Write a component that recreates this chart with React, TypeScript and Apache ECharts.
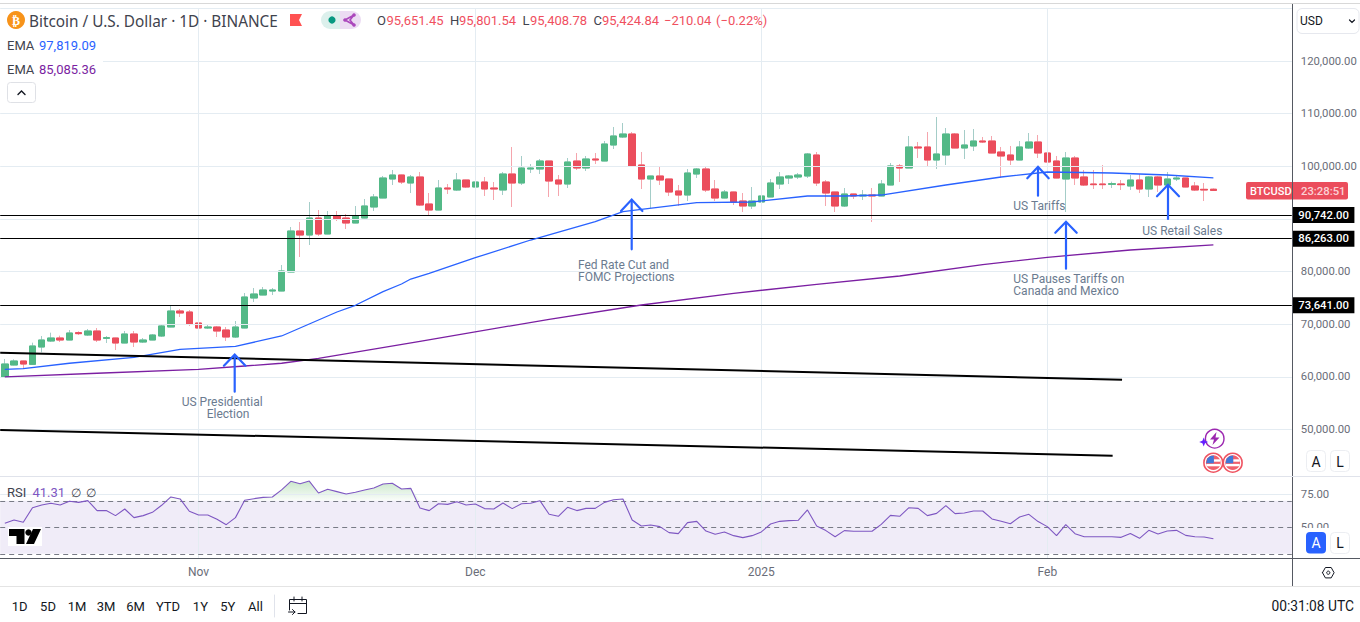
import React, { useEffect, useRef } from "react";
import * as echarts from "echarts";

const monthSpans: [string, number, number][] = [["Oct", 11, 31], ["Nov", 1, 30], ["Dec", 1, 31], ["Jan", 1, 31], ["Feb", 1, 19]];
const futureSlots = ["f1", "f2", "f3", "f4", "f5", "f6", "f7", "f8"];
const categories: string[] = [];
monthSpans.forEach(([m, a, b]) => { for (let d = a; d <= b; d++) categories.push(`${m} ${d}`); });
futureSlots.forEach((s) => categories.push(s));
const timeLabels: Record<string, string> = { "Nov 1": "Nov", "Dec 1": "Dec", "Jan 1": "2025", "Feb 1": "Feb" };
const priceLevels = [90742, 86263, 73641];
const priceTickLabels = [50000, 60000, 70000, 80000, 100000, 110000, 120000];
const priceGridLines = [50000, 60000, 70000, 80000, 90000, 100000, 110000, 120000, 130000];
const rsiTickLabels = [50, 75];

// open, close, low, high
const ohlc: number[][] = [
  [59992,62460,59992,63410],[62270,63030,62200,63345],[63030,62460,61637,63060],[62397,65879,62270,66512],[65689,67018,64676,67776],
  [66828,67398,66638,68411],[67398,67018,66638,67841],[67018,68347,66990,68917],[68411,68221,67967,68664],[67967,68727,67776,69107],
  [68727,67018,66638,69297],[67335,67461,66448,67776],[67398,66448,65119,67430],[66448,68157,66420,68727],[68157,66638,65689,68727],
  [66638,67018,66448,67398],[67018,67967,66990,68157],[67776,69677,67587,70056],[69487,72525,69440,73475],[72525,72145,71386,72905],
  [72335,70056,69677,72715],[70246,69297,68727,71576],[69297,69487,69107,69866],[69487,68727,67587,69677],[68917,67587,66828,69487],
  [67587,69487,67398,70626],[69297,75184,69260,75943],[74994,75753,74234,76893],[75563,76513,75530,77083],[76323,76513,75563,76893],
  [76323,80121,76290,81261],[79931,87717,79900,88477],[87717,86957,82780,89426],[86957,90186,85058,93224],[90186,87147,86768,91705],
  [87147,90629,87120,91515],[90566,89996,89616,91515],[90186,89236,88097,90945],[89236,90629,89200,92465],[90186,92465,90150,93794],
  [92275,94174,91515,94743],[93984,97782,93950,98162],[97592,98351,96452,99301],[98351,97022,96642,98400],[96832,97972,94933,98351],
  [97972,92654,92465,98921],[92844,91705,90756,94933],[91705,95882,91670,97402],[95882,95693,94743,96642],[95503,97402,95313,98731],
  [97402,96073,95882,97440],[96073,97022,95882,97592],[97022,95693,94364,97972],[95882,95693,93604,97022],[95503,98541,94553,98921],
  [98541,96832,92275,103669],[96832,99681,96452,101960],[99491,99681,98731,100440],[99491,101010,98541,101390],[101010,97212,94174,101040],
  [97402,96642,94364,98351],[96642,100820,95882,101580],[101010,99681,99301,102529],[99681,101390,99111,101960],[101390,101200,100440,102529],
  [101010,104238,100980,104808],[104048,105758,103289,107467],[105568,106137,105378,108226],[106137,100061,100030,106517],[100251,97592,95693,102719],
  [97592,98161,92085,98190],[98161,97402,96452,99871],[97592,95123,94364,97620],[95313,94553,92465,96452],[94553,98731,93414,99491],
  [98541,99491,97782,99681],[99491,95503,95123,99871],[95693,93984,93414,97402],[93984,95123,93950,95503],[95123,93224,92654,95160],
  [93414,92465,91325,94933],[92465,93414,91895,96073],[93224,94364,93034,94870],[94174,96832,94140,97592],[96642,97972,95693,98921],
  [97782,98161,96642,98351],[97972,98351,97592,98731],[98161,102339,97782,102529],[102149,96832,96262,102719],[97022,94933,92465,97402],
  [95123,92465,91325,95150],[92465,94743,92275,95882],[94743,94364,93794,94770],[94364,94553,93604,95503],[94553,94364,89426,95882],
  [94364,96642,94330,97402],[96452,100061,96420,100630],[100061,99681,97022,100440],[99681,103669,99650,105758],[103669,103479,101580,104618],
  [103669,101200,99871,106517],[101200,102339,99491,109366],[102149,106137,100251,107277],[106137,103479,103450,106327],[103479,104048,101390,106897],
  [103859,104808,102909,107087],[104808,104618,104428,105568],[104808,102529,102500,105758],[102719,101960,97782,103669],[102149,101200,100251,103859],
  [101200,103669,101170,104808],[103479,104618,103289,106327],[104618,102529,101580,105947],[102529,100820,100790,102719],[101010,97782,97750,101960],
  [97592,101580,91325,102719],[101580,97782,96452,101960],[97972,96452,96262,99301],[96642,96516,95693,99301],[96642,96516,95693,100250],
  [96579,96706,95882,97085],[96642,96516,95503,97402],[96262,97402,95503,98351],[97402,95693,94933,98541],[95693,97972,94174,98161],
  [97972,96452,95123,98161],[96452,97592,96420,98921],[97592,97782,97212,98161],[97782,96073,96040,97810],[96262,95503,95313,97022],
  [95630,95503,93414,96832],[95651.45,95424.84,95408.78,95801.54],
];

// [bar index, value]
const emaFast: number[][] = [[0,61454],[2,61570],[7,62600],[14,63730],[19,65250],[25,65820],[30,67780],[36,72335],[38,73610],[41,76190],[43,77652],[44,78600],[46,79685],[51,82646],[57,86008],[64,89483],[67,91382],[69,91838],[75,93092],[81,93224],[87,94364],[91,94364],[95,94550],[102,96450],[108,97970],[113,98920],[120,98730],[126,98350],[131,97819.09]];
const emaSlow: number[][] = [[0,60000],[10,60700],[21,61454],[26,62080],[30,62600],[34,63540],[45,66770],[59,70950],[69,73664],[79,75885],[88,77595],[97,79170],[106,81350],[113,82720],[122,84110],[131,85085.36]];
const trendOne: number[][] = [[-0.5,64606],[121.1,59480]];
const trendTwo: number[][] = [[-0.5,49927],[120.08,45047]];

const rsiValues = [53,55.5,53.8,64.8,66.8,68.1,66.8,69.6,68.8,70.1,62.6,62.6,58.8,63.8,57.3,58.8,61.3,66.6,72.9,71.4,62.1,59.3,59.3,56,52,57.3,70.4,71.6,72.6,72.9,78.2,84.7,82.9,84.9,75.9,78.7,76.9,75.1,76.4,78.2,79.7,82.7,83.2,78.9,79.4,64.6,62.6,67.8,67.3,69.35,66.8,67.6,64.1,63.8,68.3,64.1,67.8,68.1,70.1,59.8,58.3,65.1,62.6,64.3,64.3,68.8,70.8,71.4,55.5,51,51.7,50.5,46,45.2,53.5,54.5,47.2,44.7,46.5,43.7,42.2,43.7,46.5,52.5,54.5,55,55.3,63.1,51,47.5,42.9,47.5,47,47,47,52.2,59,58.3,64.8,64.3,58.8,60.5,66.3,60.3,60.8,62.3,62.3,56.3,54.5,52.7,57.8,59.8,54.3,50.5,43.7,52,45.2,42.9,42.9,42.9,42.9,42.4,45.4,41.7,47.7,45,47.2,47.7,43.9,42.9,42.7,41.31];

const UI = "Roboto, sans-serif";
const GRID = "#e4ecf2";
const GRAY = "#6a6d78";
const INK = "#3f434e";
const NOTE = "#6b7b90";
const RED = "#f0505f";
const BLUE = "#2962ff";
const UP = "#53b987";
const DOWN = "#eb4d5c";

function txt(text: string, x: number, y: number, fill: string, fontSize = 12, extra: any = {}) {
  const align = extra.align || "left";
  return {
    type: "text", x, y, z: 110, silent: true,
    style: { text, fill, fontSize, fontFamily: extra.family || UI, fontWeight: extra.weight || 400, textAlign: align, align, textVerticalAlign: "middle", verticalAlign: "middle" },
  };
}
function poly(points: number[][], stroke: string, lineWidth = 1, z = 105) {
  return { type: "polyline", z, silent: true, shape: { points }, style: { stroke, lineWidth, fill: null, lineCap: "round", lineJoin: "miter" } };
}
function solid(points: number[][], fill: string, z = 106) {
  return { type: "polygon", z, silent: true, shape: { points }, style: { fill } };
}
function box(x: number, y: number, w: number, h: number, fill: string, stroke?: string, r = 0, z = 100) {
  return { type: "rect", z, silent: true, shape: { x, y, width: w, height: h, r }, style: { fill, stroke: stroke || null, lineWidth: 1 } };
}
function disc(cx: number, cy: number, r: number, fill: string | null, stroke?: string, lineWidth = 1, z = 106) {
  return { type: "circle", z, silent: true, shape: { cx, cy, r }, style: { fill, stroke: stroke || null, lineWidth } };
}
function arrow(x: number, tip: number, tail: number, half: number, drop: number) {
  return [poly([[x, tip + 1], [x, tail]], BLUE, 2.2), poly([[x - half, tip + drop], [x, tip], [x + half, tip + drop]], BLUE, 2.2)];
}
function flag(cx: number, cy: number) {
  return [
    disc(cx, cy, 9.4, "#ffffff", "#ef5361", 1.6, 107),
    disc(cx, cy, 7.4, "#f0606d", undefined, 1, 108),
    box(cx - 7, cy + 1.2, 14, 2.4, "#ffffff", undefined, 0, 109),
    box(cx + 0.5, cy - 3.4, 6.6, 2.4, "#ffffff", undefined, 0, 109),
    solid([[cx - 7.2, cy + 0.6], [cx - 6, cy - 4.2], [cx - 3, cy - 6.6], [cx + 0.5, cy - 7.3], [cx + 0.5, cy + 0.6]], "#3f78d8", 110),
  ];
}

function buildGraphic() {
  const g: any[] = [];
  // frame
  g.push(poly([[0, 3.5], [1360, 3.5]], "#d8d8d8", 1));
  g.push(poly([[0, 476.5], [1360, 476.5]], "#e0e3eb", 1.2));
  g.push(poly([[0, 558.5], [1360, 558.5]], "#555962", 1));
  g.push(poly([[0, 586.5], [1360, 586.5]], "#e4e4e4", 1));
  g.push(poly([[1292.5, 4], [1292.5, 586]], "#555962", 1, 104));
  // header
  g.push(disc(16, 20, 9, "#f7931a"));
  g.push(txt("₿", 16, 20.5, "#ffffff", 12, { align: "center", family: "DejaVu Sans", weight: 700 }));
  g.push(txt("Bitcoin / U.S. Dollar · 1D · BINANCE", 29, 20.5, INK, 15.35, { family: "Noto Sans, sans-serif" }));
  g.push(solid([[290, 14], [302, 14], [299, 20], [302, 26], [290, 26]], "#ff5252"));
  g.push(box(321, 11, 20, 18, "#dcf0ec", undefined, 9));
  g.push(box(340, 11, 21, 18, "#ecdcf3", undefined, 9));
  g.push(box(331, 11, 10, 18, "#dcf0ec"));
  g.push(box(340, 11, 10, 18, "#ecdcf3"));
  g.push(disc(332, 20, 3.6, "#089981"));
  g.push(poly([[354, 15], [345, 20], [354, 25], [350, 20], [354, 15]], "#ab47bc", 1.6));
  g.push(disc(354, 15, 1.8, "#ab47bc"), disc(345, 20, 1.8, "#ab47bc"), disc(354, 25, 1.8, "#ab47bc"));
  [["O", 377, "95,651.45", 386.5], ["H", 450, "95,801.54", 459], ["L", 522.5, "95,408.78", 530], ["C", 593.5, "95,424.84", 602]].forEach(([a, ax, b, bx]: any) => {
    g.push(txt(a, ax, 20.5, INK, 13));
    g.push(txt(b, bx, 20.5, RED, 13));
  });
  g.push(txt("−210.04", 664, 20.5, RED, 13));
  g.push(txt("(−0.22%)", 716, 20.5, RED, 13));
  g.push(box(0, 58, 103, 6, "#ffffff", undefined, 0, 60));
  g.push(txt("EMA", 7, 45, INK, 13));
  g.push(txt("97,819.09", 39, 45, BLUE, 13));
  g.push(txt("EMA", 7, 69, INK, 13));
  g.push(txt("85,085.36", 39, 69, "#7b1fa2", 13));
  g.push(box(7.5, 82.5, 28, 20, "#ffffff", "#dfe1e6", 3));
  g.push(poly([[18, 94.5], [21.5, 91], [25, 94.5]], "#131722", 1.4));
  // USD selector
  g.push(box(1297, 8.5, 62, 25, "#ffffff", "#e6e8ee", 5));
  g.push(txt("USD", 1300, 21, "#131722", 12));
  g.push(poly([[1349.5, 20], [1352, 22.5], [1354.5, 20]], "#131722", 1.2));
  // price tag
  g.push(box(1246, 182, 102, 17.5, "#eb4d5c", undefined, 2, 101));
  g.push(txt("BTCUSD", 1250, 191, "#ffffff", 11, { weight: 500 }));
  g.push(txt("23:28:51", 1301, 191, "#fbd2d6", 11.3, { weight: 500 }));
  // annotations
  g.push(...arrow(234.7, 354.5, 391.7, 10.8, 11.2));
  g.push(...arrow(631.7, 199.5, 249.3, 10.7, 11.5));
  g.push(...arrow(1038, 166.8, 195.7, 10.7, 11.5));
  g.push(...arrow(1066, 221.8, 268.7, 10.7, 11));
  g.push(...arrow(1168, 184.8, 219, 11, 11.5));
  g.push(txt("US Presidential", 181.7, 401.7, NOTE, 12));
  g.push(txt("Election", 206.7, 413.7, NOTE, 12));
  g.push(txt("Fed Rate Cut and", 578, 264.7, NOTE, 12));
  g.push(txt("FOMC Projections", 578, 276.7, NOTE, 12));
  g.push(txt("US Tariffs", 1013.3, 205.7, NOTE, 12));
  g.push(txt("US Retail Sales", 1142.3, 230.7, NOTE, 12));
  g.push(txt("US Pauses Tariffs on", 1013.3, 278.7, NOTE, 12));
  g.push(txt("Canada and Mexico", 1013.3, 290.7, NOTE, 12));
  // event icons
  g.push(disc(1214.7, 438.7, 9.3, "#ffffff", "#9c27b0", 1.4));
  g.push(solid([[1216.5, 432], [1210, 439.5], [1214, 439.5], [1212.5, 445], [1219.5, 437.5], [1215.5, 437.5]], "#9c27b0"));
  g.push(solid([[1203.7, 437.5], [1205, 440.7], [1208.2, 442], [1205, 443.3], [1203.7, 446.5], [1202.4, 443.3], [1199.2, 442], [1202.4, 440.7]], "#651fff", 108));
  g.push(...flag(1213.3, 462.7), ...flag(1232.7, 462.7));
  // scale buttons
  g.push(box(1306.5, 450.5, 19, 21, "#ffffff", "#eceef2", 4));
  g.push(txt("A", 1316, 461.5, "#131722", 14, { align: "center" }));
  g.push(box(1330.5, 450.5, 19, 21, "#ffffff", "#eceef2", 4));
  g.push(txt("L", 1340, 461.5, "#131722", 14, { align: "center" }));
  g.push(box(1293, 528, 67, 30, "#ffffff", undefined, 0, 99));
  g.push(box(1306, 532, 20, 21.5, BLUE, undefined, 4));
  g.push(txt("A", 1316, 543, "#ffffff", 14, { align: "center" }));
  g.push(box(1330.5, 532.5, 19, 21, "#ffffff", "#eceef2", 4));
  g.push(txt("L", 1340, 543, "#131722", 14, { align: "center" }));
  g.push(poly([[1322.5, 572.7], [1325.4, 567.5], [1331.2, 567.5], [1334.1, 572.7], [1331.2, 577.9], [1325.4, 577.9], [1322.5, 572.7]], "#131722", 1));
  g.push(disc(1328.3, 572.7, 1.6, null, "#131722", 1));
  // RSI legend and logo
  g.push(txt("RSI", 7, 492.7, INK, 13));
  g.push(txt("41.31", 32.5, 492.7, "#7e57c2", 13));
  g.push(txt("∅", 71, 492.7, INK, 12));
  g.push(txt("∅", 86, 492.7, INK, 12));
  g.push(box(8, 527, 34, 19, "#ffffff", undefined, 0, 101));
  g.push(solid([[9, 529], [24.5, 529], [24.5, 544], [16.5, 544], [16.5, 536], [9, 536]], "#000000"));
  g.push(disc(28.5, 532.5, 3.2, "#000000"));
  g.push(solid([[33, 529], [41, 529], [34, 544], [26, 544]], "#000000"));
  // range bar
  [["1D", 19.6], ["5D", 48], ["1M", 77], ["3M", 106], ["6M", 135.5], ["YTD", 168], ["1Y", 200.4], ["5Y", 227.8], ["All", 255.5]].forEach(([t, x]: any) => {
    g.push(txt(t, x, 606, "#131722", 13, { align: "center" }));
  });
  g.push(poly([[274.5, 595], [274.5, 617]], "#e0e3eb", 1));
  g.push(poly([[289.5, 610], [289.5, 599.5], [306.5, 599.5], [306.5, 613.5], [298, 613.5]], "#131722", 1));
  g.push(poly([[289.5, 603.5], [306.5, 603.5]], "#131722", 1));
  g.push(poly([[294, 597], [294, 601]], "#131722", 1), poly([[302, 597], [302, 601]], "#131722", 1));
  g.push(poly([[288.5, 612], [295, 612]], "#131722", 1), poly([[292.5, 609.5], [295, 612], [292.5, 614.5]], "#131722", 1));
  g.push(txt("00:31:08 UTC", 1354, 606, "#131722", 13.8, { align: "right" }));
  return g;
}

function buildOption() {
  const monthNames = Object.keys(timeLabels);
  const isLabelled = (_: number, v: string) => v in timeLabels;
  const lineStyle = { color: GRID, width: 1, type: "solid" };
  const mainGrid = { silent: true, symbol: "none", label: { show: false }, lineStyle, data: [...monthNames.map((m) => ({ xAxis: m })), ...priceGridLines.map((v) => ({ yAxis: v }))] };
  const rsiGrid = { silent: true, symbol: "none", label: { show: false }, lineStyle, data: [...monthNames.map((m) => ({ xAxis: m })), { yAxis: 75 }] };
  const blanks = categories.map(() => null);
  const bodies = ohlc.map(([o, c]) => [o, c, Math.min(o, c), Math.max(o, c)]);
  const overbought = rsiValues.map((v) => Math.max(v, 70));
  const valueFont = { color: GRAY, fontSize: 11.3, fontFamily: UI };
  return {
    animation: false,
    backgroundColor: "#ffffff",
    textStyle: { fontFamily: UI },
    grid: [
      { left: 0.2, width: 1291.6, top: 8, height: 468, outerBoundsMode: "none", containLabel: false },
      { left: 0.2, width: 1291.6, top: 477, height: 81, outerBoundsMode: "none", containLabel: false },
    ],
    xAxis: [
      { type: "category", gridIndex: 0, data: categories, boundaryGap: true, axisLine: { show: false }, axisTick: { show: false }, axisLabel: { show: false }, splitLine: { show: false } },
      { type: "category", gridIndex: 1, data: categories, boundaryGap: true, axisLine: { show: false }, axisTick: { show: false }, splitLine: { show: false },
        axisLabel: { interval: isLabelled, formatter: (v: string) => timeLabels[v] || "", color: GRAY, fontSize: 12, fontFamily: UI, margin: 8 } },
      { type: "value", gridIndex: 0, min: -0.5, max: 139.5, show: false },
    ],
    yAxis: [
      { type: "value", gridIndex: 0, position: "right", min: 41192, max: 130065, axisLine: { show: false }, axisTick: { show: false }, splitLine: { show: false },
        axisLabel: { ...valueFont, margin: 9, customValues: priceTickLabels, formatter: (v: number) => v.toLocaleString("en-US", { minimumFractionDigits: 2 }) } },
      { type: "value", gridIndex: 1, position: "right", min: 26.83, max: 87.96, axisLine: { show: false }, axisTick: { show: false }, splitLine: { show: false },
        axisLabel: { ...valueFont, margin: 9, customValues: rsiTickLabels, formatter: (v: number) => v.toFixed(2) } },
    ],
    graphic: { elements: buildGraphic() },
    series: [
      { name: "grid main", type: "line", xAxisIndex: 0, yAxisIndex: 0, data: blanks, symbol: "none", silent: true, z: 1, markLine: mainGrid },
      { name: "BTCUSD wicks", type: "candlestick", xAxisIndex: 0, yAxisIndex: 0, z: 3, barWidth: 7, data: ohlc, silent: true,
        itemStyle: { color: "#a4cdc8", color0: "#f5a5ad", borderColor: "#a4cdc8", borderColor0: "#f5a5ad", borderWidth: 1 } },
      { name: "BTCUSD", type: "candlestick", xAxisIndex: 0, yAxisIndex: 0, z: 4, barWidth: 7, data: bodies, silent: true,
        itemStyle: { color: UP, color0: DOWN, borderColor: UP, borderColor0: DOWN, borderWidth: 1 } },
      { name: "EMA slow", type: "line", xAxisIndex: 0, yAxisIndex: 0, z: 5, data: emaSlow, symbol: "none", silent: true, lineStyle: { color: "#7b1fa2", width: 1.3 } },
      { name: "EMA fast", type: "line", xAxisIndex: 0, yAxisIndex: 0, z: 5, data: emaFast, symbol: "none", silent: true, lineStyle: { color: BLUE, width: 1.3 } },
      { name: "levels", type: "line", xAxisIndex: 0, yAxisIndex: 0, z: 6, data: blanks, symbol: "none", silent: true,
        markLine: { silent: true, symbol: "none", lineStyle: { color: "#000000", width: 1, type: "solid" },
          label: { show: true, position: "end", distance: 1, backgroundColor: "#000000", color: "#ffffff", fontFamily: UI, fontSize: 11.3, fontWeight: 500, padding: [3, 5.5, 2, 5.5],
            formatter: (p: any) => Number(p.value).toLocaleString("en-US", { minimumFractionDigits: 2 }) },
          data: priceLevels.map((v) => ({ yAxis: v })) } },
      { name: "trend upper", type: "line", xAxisIndex: 2, yAxisIndex: 0, z: 6, data: trendOne, symbol: "none", silent: true, lineStyle: { color: "#000000", width: 2 } },
      { name: "trend lower", type: "line", xAxisIndex: 2, yAxisIndex: 0, z: 6, data: trendTwo, symbol: "none", silent: true, lineStyle: { color: "#000000", width: 2 } },
      { name: "rsi band", type: "line", xAxisIndex: 1, yAxisIndex: 1, data: blanks, symbol: "none", silent: true, z: 1,
        markLine: rsiGrid,
        markArea: { silent: true, itemStyle: { color: "rgba(126,87,194,0.115)" }, data: [[{ yAxis: 30 }, { yAxis: 70 }]] } },
      { name: "rsi guides", type: "line", xAxisIndex: 1, yAxisIndex: 1, data: blanks, symbol: "none", silent: true, z: 2,
        markLine: { silent: true, symbol: "none", label: { show: false }, lineStyle: { color: "#787b86", width: 1, type: [5, 4] }, data: [{ yAxis: 70 }, { yAxis: 50 }, { yAxis: 30 }] } },
      { name: "rsi overbought", type: "line", xAxisIndex: 1, yAxisIndex: 1, z: 3, data: overbought, symbol: "none", silent: true, lineStyle: { opacity: 0, width: 0 },
        areaStyle: { origin: 70, color: new echarts.graphic.LinearGradient(0, 0, 0, 1, [{ offset: 0, color: "rgba(76,175,80,0.42)" }, { offset: 1, color: "rgba(76,175,80,0.04)" }]) } },
      { name: "RSI", type: "line", xAxisIndex: 1, yAxisIndex: 1, z: 5, data: rsiValues, symbol: "none", silent: true, lineStyle: { color: "#7e57c2", width: 1.1 } },
    ],
  };
}

export default function App() {
  const ref = useRef<HTMLDivElement>(null);
  useEffect(() => {
    const chart = echarts.init(ref.current!, undefined, { renderer: "svg" });
    chart.setOption(buildOption() as any);
    return () => chart.dispose();
  }, []);
  return <div ref={ref} style={{ position: "fixed", left: 0, top: 0, width: 1360, height: 622 }} />;
}
